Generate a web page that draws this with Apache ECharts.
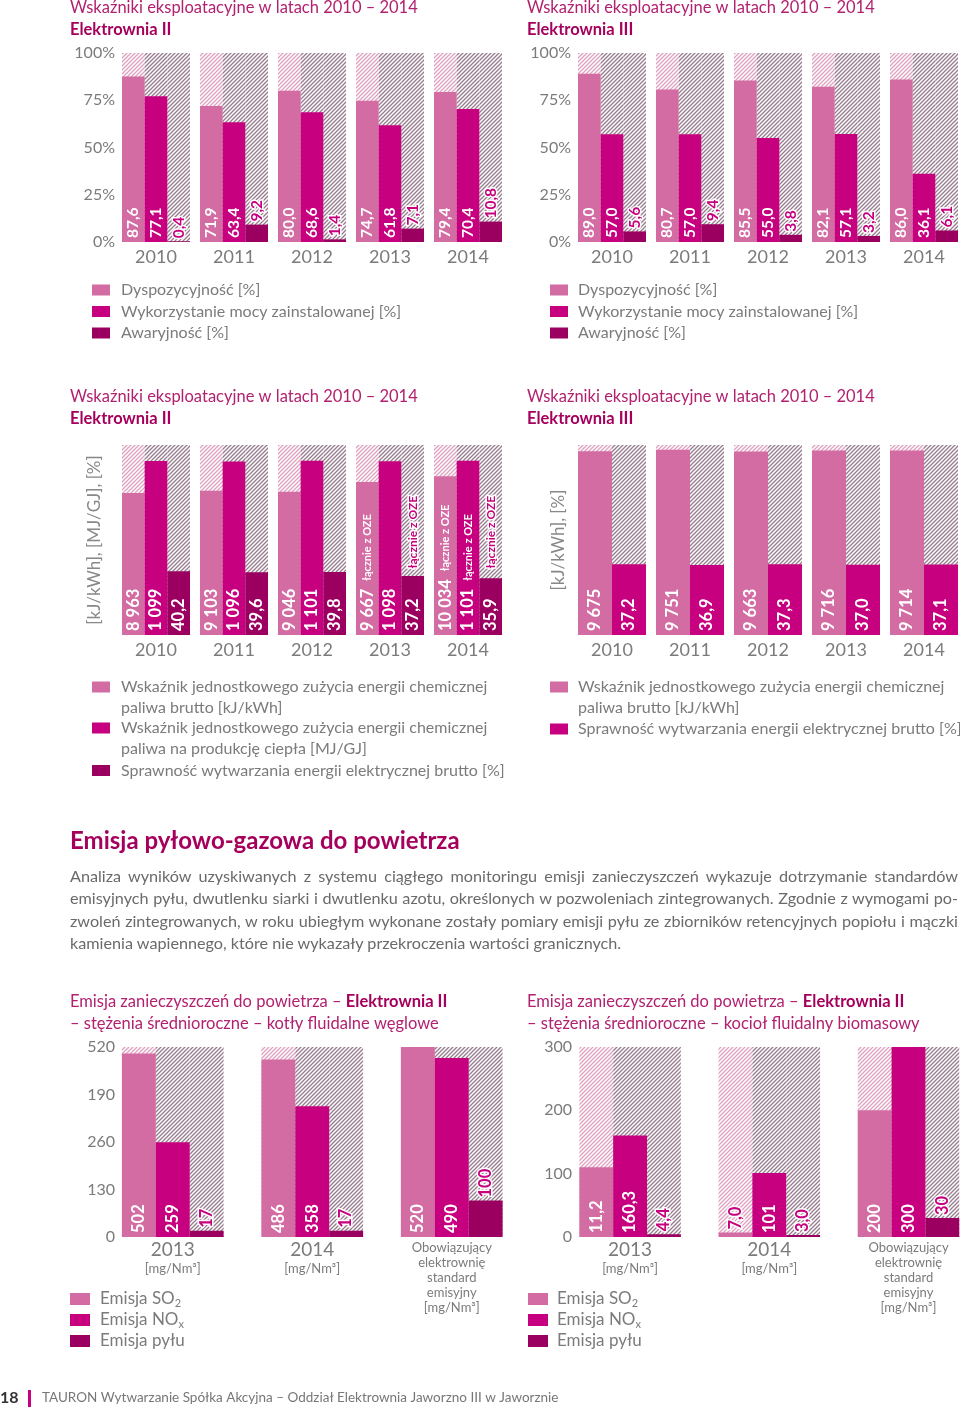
<!DOCTYPE html>
<html><head><meta charset="utf-8">
<script src="https://cdn.jsdelivr.net/npm/echarts@6/dist/echarts.min.js"></script>
<style>
html,body{margin:0;padding:0;background:#fff;}
#chart{position:absolute;left:0;top:0;width:960px;height:1411px;}
#para{position:absolute;left:70px;top:865px;width:888px;font-family:Lato,"Open Sans",sans-serif;font-size:16.2px;line-height:22.3px;color:#6a6a6a;}
#para .j{text-align:justify;text-align-last:justify;white-space:nowrap;word-spacing:-1.5px;}
</style></head><body>
<div id="chart"></div>
<div id="para">
<div class="j">Analiza wyników uzyskiwanych z systemu ciągłego monitoringu emisji zanieczyszczeń wykazuje dotrzymanie standardów</div>
<div class="j">emisyjnych pyłu, dwutlenku siarki i dwutlenku azotu, określonych w pozwoleniach zintegrowanych. Zgodnie z wymogami po-</div>
<div class="j">zwoleń zintegrowanych, w roku ubiegłym wykonane zostały pomiary emisji pyłu ze zbiorników retencyjnych popiołu i mączki</div>
<div>kamienia wapiennego, które nie wykazały przekroczenia wartości granicznych.</div>
</div>
<script>
// ---------------- DATA ----------------
const years = ['2010', '2011', '2012', '2013', '2014'];
const pctTicks = ['0%', '25%', '50%', '75%', '100%'];

// Chart 1 – Elektrownia II, wskaźniki [%]
const e2Dysp = [87.6, 71.9, 80.0, 74.7, 79.4];
const e2Wyk  = [77.1, 63.4, 68.6, 61.8, 70.4];
const e2Awar = [0.4, 9.2, 1.4, 7.1, 10.8];

// Chart 2 – Elektrownia III, wskaźniki [%]
const e3Dysp = [89.0, 80.7, 85.5, 82.1, 86.0];
const e3Wyk  = [57.0, 57.0, 55.0, 57.1, 36.1];
const e3Awar = [5.6, 9.4, 3.8, 3.2, 6.1];

// Chart 3 – Elektrownia II, zużycie energii / sprawność
const e2Kj  = [8963, 9103, 9046, 9667, 10034];
const e2Mj  = [1099, 1096, 1101, 1098, 1101];
const e2Eff = [40.2, 39.6, 39.8, 37.2, 35.9];
const e2KjOze  = [false, false, false, true, true];
const e2MjOze  = [false, false, false, false, true];
const e2EffOze = [false, false, false, true, true];

// Chart 4 – Elektrownia III, zużycie energii / sprawność
const e3Kj  = [9675, 9751, 9663, 9716, 9714];
const e3Eff = [37.2, 36.9, 37.3, 37.0, 37.1];

// Chart 5 – emisja, kotły fluidalne węglowe [mg/Nm3]
const emisCats = ['2013', '2014', 'Obowiązujący elektrownię standard emisyjny'];
const coalTicks = ['0', '130', '260', '190', '520'];
const coalSO2  = [502, 486, 520];
const coalNOx  = [259, 358, 490];
const coalDust = [17, 17, 100];

// Chart 6 – emisja, kocioł fluidalny biomasowy [mg/Nm3]
const bioTicks = ['0', '100', '200', '300'];
const bioSO2  = [110, 7, 200];          // bar heights as drawn in the source
const bioSO2Labels  = ['11,2', '7,0', '200'];
const bioNOx  = [160.3, 101, 300];
const bioNOxLabels  = ['160,3', '101', '300'];
const bioDust = [4.4, 3.0, 30];
const bioDustLabels = ['4,4', '3,0', '30'];

// ---------------- STYLE ----------------
const FONT = 'Lato, "Open Sans", sans-serif';
const C1 = '#d26ca2', C2 = '#c6007e', C3 = '#9b0060';
const TITLE = '#b2216f', TITLE_B = '#a5005c';
const GRAY = '#7b7b7b';

function hatch(color) {
  const s = 4, c = document.createElement('canvas');
  c.width = s; c.height = s;
  const g = c.getContext('2d');
  g.fillStyle = '#ffffff'; g.fillRect(0, 0, s, s);
  g.strokeStyle = color; g.lineWidth = 1.3;
  g.beginPath();
  g.moveTo(0, s); g.lineTo(s, 0);
  g.moveTo(-1, 1); g.lineTo(1, -1);
  g.moveTo(s - 1, s + 1); g.lineTo(s + 1, s - 1);
  g.stroke();
  return { image: c, repeat: 'repeat' };
}
const LIGHT = hatch('#e0a0c0');
const DARK = hatch('#967a8d');

function fmt(v, dec) {
  const s = v.toFixed(dec);
  const parts = s.split('.');
  const ip = parts[0].replace(/\B(?=(\d{3})+(?!\d))/g, ' ');
  return parts.length > 1 ? ip + ',' + parts[1] : ip;
}

const richBase = {
  v: { color: '#fff', fontWeight: 'bold', fontSize: 16.5, fontFamily: FONT },
  o: { color: '#fff', fontWeight: 'bold', fontSize: 11, fontFamily: FONT },
  sp: { width: 30 },
  sp2: { width: 8 },
  m: { color: C2, fontWeight: 'bold', fontSize: 12, fontFamily: FONT, textBorderColor: '#fff', textBorderWidth: 3 }
};

function topLabel(fs) {
  return { position: 'top', distance: 3, color: C2, textBorderColor: '#fff', textBorderWidth: 3, fontSize: fs };
}

function bar(o) {
  return {
    type: 'bar', name: o.name, xAxisIndex: o.xi, yAxisIndex: o.yi,
    barGap: 0, barCategoryGap: o.gap,
    itemStyle: { color: o.color },
    showBackground: true, backgroundStyle: { color: o.bg, opacity: 1 },
    emphasis: { disabled: true },
    silent: true,
    data: o.data.map((v, i) => ({ value: v, label: (o.tops && o.tops[i]) ? topLabel(o.fs) : {} })),
    label: {
      show: true, position: 'insideBottom', rotate: 90, align: 'left', verticalAlign: 'middle',
      distance: o.dist || 4, color: '#fff', fontWeight: 'bold', fontSize: o.fs, fontFamily: FONT,
      formatter: o.formatter, rich: o.rich || undefined
    }
  };
}

const ALL = [true, true, true, true, true];

// ---------------- AXES ----------------
const grids = [
  { left: 117, top: 53, width: 390, height: 189 },
  { left: 573, top: 53, width: 390, height: 189 },
  { left: 117, top: 445, width: 390, height: 190 },
  { left: 573, top: 445, width: 390, height: 190 },
  { left: 103, top: 1047, width: 418.5, height: 190 },
  { left: 560.5, top: 1047, width: 417.6, height: 190 }
].map(g => Object.assign({ outerBoundsMode: 'none', containLabel: false }, g));

function xCat(gi, data, big) {
  const ax = {
    type: 'category', gridIndex: gi, data: data,
    axisTick: { show: false }, axisLine: { show: false },
    axisLabel: { color: GRAY, fontSize: 18, fontFamily: FONT, margin: 6, interval: 0 }
  };
  if (big) {
    ax.axisLabel = {
      color: GRAY, fontFamily: FONT, margin: 3, interval: 0,
      formatter: (v, i) => i < 2 ? `{y|${v}}\n{u|[mg/Nm³]}` : v.split(' ').map(w => `{s|${w}}`).join('\n') + '\n{s|[mg/Nm³]}',
      rich: {
        y: { fontSize: 19, color: GRAY, fontFamily: FONT, lineHeight: 20 },
        u: { fontSize: 13, color: GRAY, fontFamily: FONT, lineHeight: 17 },
        s: { fontSize: 13, color: GRAY, fontFamily: FONT, lineHeight: 15 }
      }
    };
  }
  return ax;
}
function yVal(gi, max, opts) {
  const ax = {
    type: 'value', gridIndex: gi, min: 0, max: max,
    splitLine: { show: false }, axisLine: { show: false }, axisTick: { show: false },
    axisLabel: { show: false }
  };
  return Object.assign(ax, opts || {});
}
const tickLabel = (fmtFn) => ({ show: true, color: GRAY, fontSize: 16, fontFamily: FONT, margin: 2, formatter: fmtFn });

const xAxis = [
  xCat(0, years), xCat(1, years), xCat(2, years), xCat(3, years),
  xCat(4, emisCats, true), xCat(5, emisCats, true)
];
const yAxis = [
  yVal(0, 100, { interval: 25, axisLabel: tickLabel(v => pctTicks[Math.round(v / 25)]) }),
  yVal(1, 100, { interval: 25, axisLabel: tickLabel(v => pctTicks[Math.round(v / 25)]) }),
  yVal(2, 12000, { name: '[kJ/kWh], [MJ/GJ], [%]', nameLocation: 'middle', nameRotate: 90, nameGap: 14,
                   nameTextStyle: { color: '#888', fontSize: 17, fontFamily: FONT } }),
  yVal(2, 1200),
  yVal(2, 120),
  yVal(3, 10000, { name: '[kJ/kWh], [%]', nameLocation: 'middle', nameRotate: 90, nameGap: 6,
                   nameTextStyle: { color: '#888', fontSize: 17, fontFamily: FONT } }),
  yVal(3, 100),
  yVal(4, 520, { interval: 130, offset: -14, axisLabel: tickLabel(v => coalTicks[Math.round(v / 130)]) }),
  yVal(5, 300, { interval: 100, offset: -13.5, axisLabel: tickLabel(v => bioTicks[Math.round(v / 100)]) })
];

// ---------------- SERIES ----------------
const GAP_A = '12.82%', GAP_B = '27.1%';
const one = v => fmt(v, 1);
const series = [
  // chart 1
  bar({ name: 'Dyspozycyjność [%]', data: e2Dysp, xi: 0, yi: 0, color: C1, bg: LIGHT, gap: GAP_A, fs: 15.5, formatter: p => one(p.value) }),
  bar({ name: 'Wykorzystanie mocy zainstalowanej [%]', data: e2Wyk, xi: 0, yi: 0, color: C2, bg: DARK, gap: GAP_A, fs: 15.5, formatter: p => one(p.value) }),
  bar({ name: 'Awaryjność [%]', data: e2Awar, xi: 0, yi: 0, color: C3, bg: DARK, gap: GAP_A, fs: 15.5, tops: ALL, formatter: p => one(p.value) }),
  // chart 2
  bar({ name: 'Dyspozycyjność [%]', data: e3Dysp, xi: 1, yi: 1, color: C1, bg: LIGHT, gap: GAP_A, fs: 15.5, formatter: p => one(p.value) }),
  bar({ name: 'Wykorzystanie mocy zainstalowanej [%]', data: e3Wyk, xi: 1, yi: 1, color: C2, bg: DARK, gap: GAP_A, fs: 15.5, formatter: p => one(p.value) }),
  bar({ name: 'Awaryjność [%]', data: e3Awar, xi: 1, yi: 1, color: C3, bg: DARK, gap: GAP_A, fs: 15.5, tops: ALL, formatter: p => one(p.value) }),
  // chart 3
  bar({ name: 'kJ', data: e2Kj, xi: 2, yi: 2, color: C1, bg: LIGHT, gap: GAP_A, fs: 16.5, rich: richBase,
        formatter: p => `{v|${fmt(p.value, 0)}}` + (e2KjOze[p.dataIndex] ? '{sp2|}{o|łącznie z OZE}' : '') }),
  bar({ name: 'MJ', data: e2Mj, xi: 2, yi: 3, color: C2, bg: DARK, gap: GAP_A, fs: 16.5, rich: richBase,
        formatter: p => `{v|${fmt(p.value, 0)}}` + (e2MjOze[p.dataIndex] ? '{sp2|}{o|łącznie z OZE}' : '') }),
  bar({ name: 'eff', data: e2Eff, xi: 2, yi: 4, color: C3, bg: DARK, gap: GAP_A, fs: 16.5, rich: richBase,
        formatter: p => `{v|${fmt(p.value, 1)}}` + (e2EffOze[p.dataIndex] ? '{sp|}{m|łącznie z OZE}' : '') }),
  // chart 4
  bar({ name: 'kJ3', data: e3Kj, xi: 3, yi: 5, color: C1, bg: LIGHT, gap: GAP_A, fs: 16.5, formatter: p => fmt(p.value, 0) }),
  bar({ name: 'eff3', data: e3Eff, xi: 3, yi: 6, color: C2, bg: DARK, gap: GAP_A, fs: 16.5, formatter: p => fmt(p.value, 1) }),
  // chart 5
  bar({ name: 'SO2c', data: coalSO2, xi: 4, yi: 7, color: C1, bg: LIGHT, gap: GAP_B, fs: 16.5, formatter: p => fmt(p.value, 0) }),
  bar({ name: 'NOxc', data: coalNOx, xi: 4, yi: 7, color: C2, bg: DARK, gap: GAP_B, fs: 16.5, formatter: p => fmt(p.value, 0) }),
  bar({ name: 'Dustc', data: coalDust, xi: 4, yi: 7, color: C3, bg: DARK, gap: GAP_B, fs: 16.5, tops: [true, true, true], formatter: p => fmt(p.value, 0) }),
  // chart 6
  bar({ name: 'SO2b', data: bioSO2, xi: 5, yi: 8, color: C1, bg: LIGHT, gap: GAP_B, fs: 16.5, tops: [false, true, false], formatter: p => bioSO2Labels[p.dataIndex] }),
  bar({ name: 'NOxb', data: bioNOx, xi: 5, yi: 8, color: C2, bg: DARK, gap: GAP_B, fs: 16.5, formatter: p => bioNOxLabels[p.dataIndex] }),
  bar({ name: 'Dustb', data: bioDust, xi: 5, yi: 8, color: C3, bg: DARK, gap: GAP_B, fs: 16.5, tops: [true, true, true], formatter: p => bioDustLabels[p.dataIndex] })
];

// ---------------- TEXT / LEGENDS ----------------
function txt(x, y, text, size, color, extra) {
  return { type: 'text', x: x, y: y, silent: true,
    style: Object.assign({ text: text, fontSize: size, fontFamily: FONT, fill: color, verticalAlign: 'middle' }, extra || {}) };
}
function title2(x, y, l1, l2) {
  return [txt(x, y, l1, 16.5, TITLE), txt(x, y + 22, l2, 16.5, TITLE_B, { fontWeight: 'bold' })];
}
function legendItems(sx, tx, rows, sw, sh, fs, colorList) {
  const out = [];
  rows.forEach((r, i) => {
    out.push({ type: 'rect', silent: true, shape: { x: sx, y: r.y - sh / 2, width: sw, height: sh }, style: { fill: colorList[i] } });
    out.push({ type: 'text', silent: true, x: tx, y: r.y - 10.5,
      style: { text: r.text, fontSize: fs, fontFamily: FONT, fill: GRAY, verticalAlign: 'top', lineHeight: 21, rich: r.rich } });
  });
  return out;
}
const subRich = {
  s: { fontSize: 11, fontFamily: FONT, fill: GRAY, padding: [9, 0, 0, 0] }
};
const tRich = { t: { fontSize: 17, fontFamily: FONT, fill: GRAY } };

const graphic = [].concat(
  title2(70, 8, 'Wskaźniki eksploatacyjne w latach 2010 – 2014', 'Elektrownia II'),
  title2(527, 8, 'Wskaźniki eksploatacyjne w latach 2010 – 2014', 'Elektrownia III'),
  title2(70, 397, 'Wskaźniki eksploatacyjne w latach 2010 – 2014', 'Elektrownia II'),
  title2(527, 397, 'Wskaźniki eksploatacyjne w latach 2010 – 2014', 'Elektrownia III'),
  legendItems(92, 121, [
    { y: 290, text: 'Dyspozycyjność [%]' },
    { y: 311.5, text: 'Wykorzystanie mocy zainstalowanej [%]' },
    { y: 333, text: 'Awaryjność [%]' }], 18, 11, 16, [C1, C2, C3]),
  legendItems(550, 578, [
    { y: 290, text: 'Dyspozycyjność [%]' },
    { y: 311.5, text: 'Wykorzystanie mocy zainstalowanej [%]' },
    { y: 333, text: 'Awaryjność [%]' }], 18, 11, 16, [C1, C2, C3]),
  legendItems(92, 121, [
    { y: 687, text: 'Wskaźnik jednostkowego zużycia energii chemicznej\npaliwa brutto [kJ/kWh]' },
    { y: 728, text: 'Wskaźnik jednostkowego zużycia energii chemicznej\npaliwa na produkcję ciepła [MJ/GJ]' },
    { y: 770.5, text: 'Sprawność wytwarzania energii elektrycznej brutto [%]' }], 18, 11, 16, [C1, C2, C3]),
  legendItems(550, 578, [
    { y: 687, text: 'Wskaźnik jednostkowego zużycia energii chemicznej\npaliwa brutto [kJ/kWh]' },
    { y: 729, text: 'Sprawność wytwarzania energii elektrycznej brutto [%]' }], 18, 11, 16, [C1, C2]),
  [txt(70, 841, 'Emisja pyłowo-gazowa do powietrza', 24, TITLE_B, { fontWeight: 'bold' })],
  [
    txt(70, 1002, '{a|Emisja zanieczyszczeń do powietrza – }{b|Elektrownia II}', 16.5, TITLE, {
      rich: { a: { fontSize: 16.5, fontFamily: FONT, fill: TITLE }, b: { fontSize: 16.5, fontFamily: FONT, fill: TITLE_B, fontWeight: 'bold' } } }),
    txt(70, 1024, '– stężenia średnioroczne – kotły fluidalne węglowe', 16.5, TITLE),
    txt(527, 1002, '{a|Emisja zanieczyszczeń do powietrza – }{b|Elektrownia II}', 16.5, TITLE, {
      rich: { a: { fontSize: 16.5, fontFamily: FONT, fill: TITLE }, b: { fontSize: 16.5, fontFamily: FONT, fill: TITLE_B, fontWeight: 'bold' } } }),
    txt(527, 1024, '– stężenia średnioroczne – kocioł fluidalny biomasowy', 16.5, TITLE)
  ],
  legendItems(70, 100, [
    { y: 1299, text: '{t|Emisja SO}{s|2}', rich: Object.assign({}, tRich, subRich) },
    { y: 1320, text: '{t|Emisja NO}{s|x}', rich: Object.assign({}, tRich, subRich) },
    { y: 1341, text: '{t|Emisja pyłu}', rich: tRich }], 20, 12, 17, [C1, C2, C3]),
  legendItems(528, 557, [
    { y: 1299, text: '{t|Emisja SO}{s|2}', rich: Object.assign({}, tRich, subRich) },
    { y: 1320, text: '{t|Emisja NO}{s|x}', rich: Object.assign({}, tRich, subRich) },
    { y: 1341, text: '{t|Emisja pyłu}', rich: tRich }], 20, 12, 17, [C1, C2, C3]),
  [
    txt(0, 1398, '18', 16, '#333', { fontWeight: 'bold' }),
    { type: 'rect', silent: true, shape: { x: 28, y: 1390, width: 3, height: 17 }, style: { fill: C2 } },
    txt(42, 1398, 'TAURON Wytwarzanie Spółka Akcyjna – Oddział Elektrownia Jaworzno III w Jaworznie', 13.5, '#777')
  ]
);

const chart = echarts.init(document.getElementById('chart'), null, { renderer: 'canvas' });
chart.setOption({
  animation: false,
  backgroundColor: '#fff',
  textStyle: { fontFamily: FONT },
  grid: grids,
  xAxis: xAxis,
  yAxis: yAxis,
  series: series,
  graphic: graphic
});
</script>
</body></html>
